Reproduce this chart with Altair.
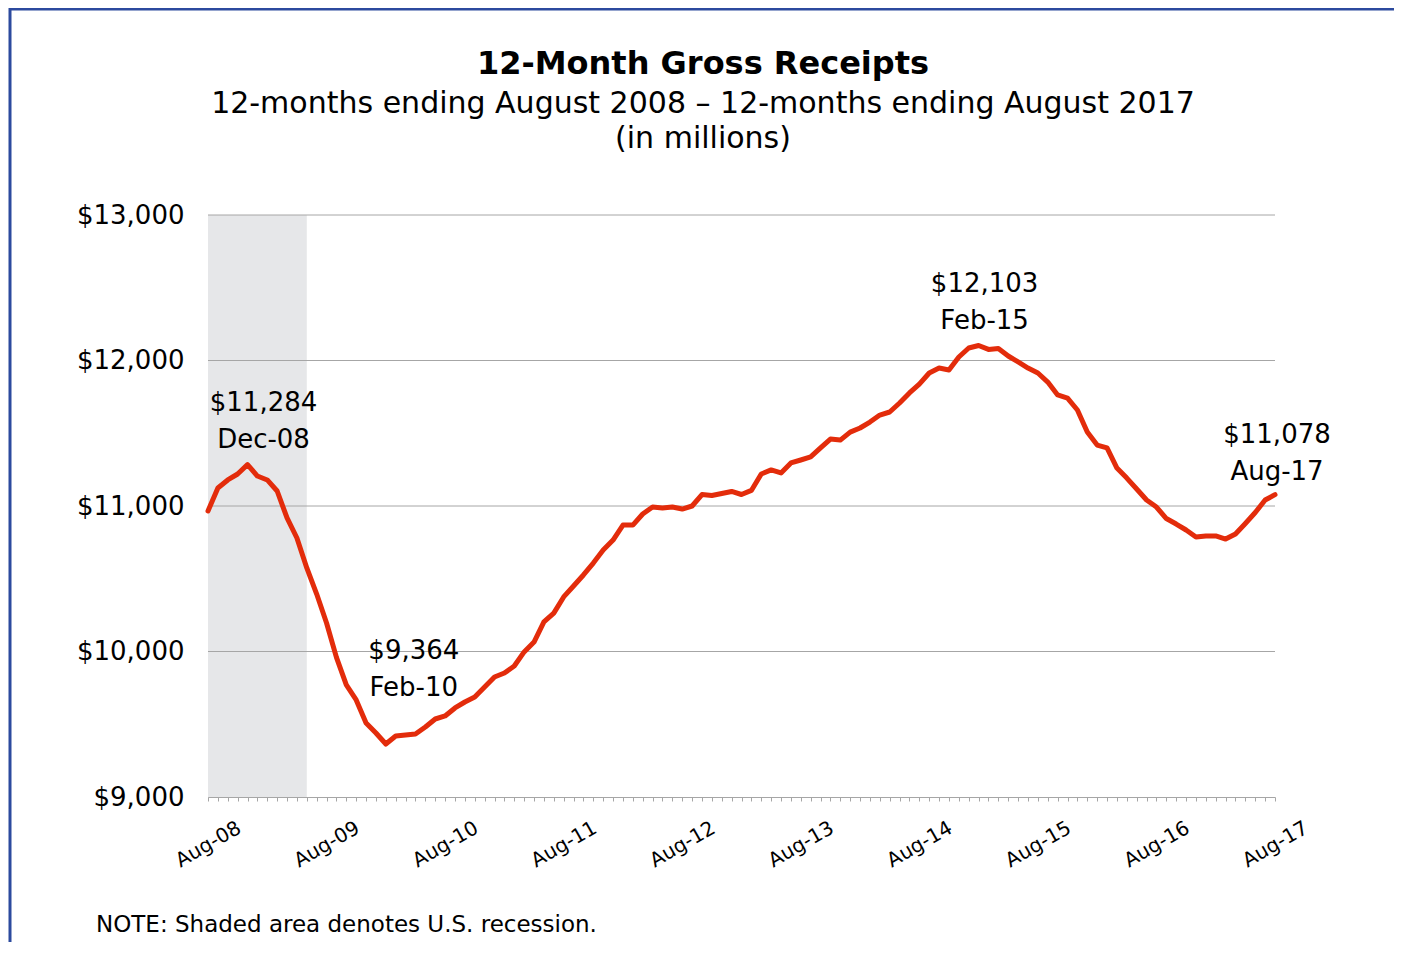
import json
import altair as alt
import pandas as pd

# ---------------- data ----------------
months = list(pd.date_range("2008-08-01", "2017-08-01", freq="MS").strftime("%b-%y"))
receipts = [
    10966, 11124, 11179, 11220, 11284, 11206, 11179, 11103, 10918, 10780,
    10574, 10395, 10196, 9960, 9770, 9667, 9509, 9440, 9364, 9419,
    9426, 9433, 9481, 9536, 9557, 9612, 9653, 9687, 9756, 9825,
    9852, 9900, 9997, 10065, 10203, 10264, 10375, 10450, 10526, 10608,
    10697, 10766, 10869, 10869, 10945, 10993, 10986, 10993, 10979, 11000,
    11079, 11072, 11086, 11100, 11079, 11107, 11220, 11248, 11227, 11296,
    11316, 11337, 11399, 11460, 11453, 11508, 11536, 11577, 11625, 11646,
    11708, 11777, 11838, 11914, 11948, 11935, 12024, 12086, 12103, 12076,
    12083, 12031, 11990, 11948, 11914, 11852, 11763, 11742, 11660, 11508,
    11419, 11399, 11261, 11192, 11117, 11041, 10993, 10914, 10876, 10835,
    10787, 10794, 10794, 10773, 10808, 10880, 10955, 11041, 11078,
]
tick_labels = ["Aug-08", "Aug-09", "Aug-10", "Aug-11", "Aug-12",
               "Aug-13", "Aug-14", "Aug-15", "Aug-16", "Aug-17"]
y_ticks = [9000, 10000, 11000, 12000, 13000]
grid_values = [10000, 11000, 12000, 13000]
recession_start = ["Aug-08"]
recession_end = ["Jun-09"]
annot_months = ["Dec-08", "Feb-10", "Feb-15", "Aug-17"]
title_text = "12-Month Gross Receipts"
subtitle_1 = "12-months ending August 2008 \u2013 12-months ending August 2017"
subtitle_2 = "(in millions)"
note_text = "NOTE: Shaded area denotes U.S. recession."

FONT = "DejaVu Sans"
LINE_RED = "#e32c0b"
GRID = "#a6a6a6"

df = pd.DataFrame({"i": list(range(len(months))), "month": months, "value": receipts})
rec_df = pd.DataFrame({
    "start": [months.index(m) for m in recession_start],
    "end": [months.index(m) for m in recession_end],
})
grid_df = pd.DataFrame({"g": grid_values})

label_expr = ("datum.value % 12 == 0 ? " + json.dumps(tick_labels)
              + "[datum.value / 12] : ''")

x_scale = alt.Scale(domain=[0, len(months) - 1], nice=False, zero=False)
y_scale = alt.Scale(domain=[y_ticks[0], y_ticks[-1]], nice=False, zero=False)

x_axis = alt.Axis(values=list(range(len(months))), labelExpr=label_expr,
                  labelAngle=-30, labelAlign="center", labelBaseline="middle",
                  labelPadding=43, labelFontSize=20, labelFont=FONT,
                  labelColor="#000000", tickSize=4, tickColor=GRID,
                  domainColor=GRID, grid=False, title=None, labelOverlap=False,
                  labelBound=False, labelFlush=False)
y_axis = alt.Axis(values=y_ticks, format="$,.0f", labelFontSize=26,
                  labelFont=FONT, labelColor="#000000", labelPadding=24,
                  ticks=False, domainColor=GRID, grid=False, title=None)

X = lambda f: alt.X(f, scale=x_scale, axis=x_axis)
Y = lambda f: alt.Y(f, scale=y_scale, axis=y_axis)

rect = alt.Chart(rec_df).mark_rect(color="#e6e7e9").encode(
    x=X("start:Q"), x2="end:Q",
)

grid = alt.Chart(grid_df).mark_rule(color=GRID, strokeWidth=1).encode(
    y=Y("g:Q"),
)

line = alt.Chart(df).mark_line(color=LINE_RED, strokeWidth=5, strokeJoin="round",
                               strokeCap="round").encode(
    x=X("i:Q"), y=Y("value:Q"),
)

offsets = {"Dec-08": (16, -62), "Feb-10": (28, -93),
           "Feb-15": (6, -62), "Aug-17": (2, -60)}
annots = []
for m in annot_months:
    dx, dy = offsets[m]
    d = df[df["month"] == m].copy()
    d["txt"] = d["value"].map(lambda v: f"${v:,.0f}") + "\n" + d["month"]
    annots.append(
        alt.Chart(d).mark_text(font=FONT, fontSize=26, color="#000000",
                               align="center", baseline="middle",
                               lineBreak="\n", lineHeight=37, dx=dx, dy=dy)
        .encode(x=X("i:Q"), y=Y("value:Q"), text="txt:N")
    )


def label(text, x, y, size, weight="normal", align="center"):
    return alt.Chart(pd.DataFrame({"t": [text]})).mark_text(
        font=FONT, fontSize=size, fontWeight=weight, color="#000000",
        align=align, baseline="alphabetic"
    ).encode(x=alt.value(x), y=alt.value(y), text="t:N")


title = label(title_text, 495, -141, 32, weight="bold")
sub1 = label(subtitle_1, 495, -102, 30)
sub2 = label(subtitle_2, 495, -67, 30)
note = label(note_text, -112, 717, 23, align="left")

border = alt.Chart(pd.DataFrame({"t": [0]})).mark_rect(
    fill=None, stroke="#2c4a9e", strokeWidth=3, clip=False
).encode(x=alt.value(-198), x2=alt.value(1188), y=alt.value(-206), y2=alt.value(800))

chart = alt.layer(rect, grid, line, *annots, title, sub1, sub2, note, border).properties(
    width=1067, height=582,
    autosize=alt.AutoSizeParams(type="none"),
    padding={"left": 200, "top": 207, "right": 119, "bottom": 145},
).configure_view(stroke=None)

chart.save("out.html", embed_options={"renderer": "svg", "actions": False})
